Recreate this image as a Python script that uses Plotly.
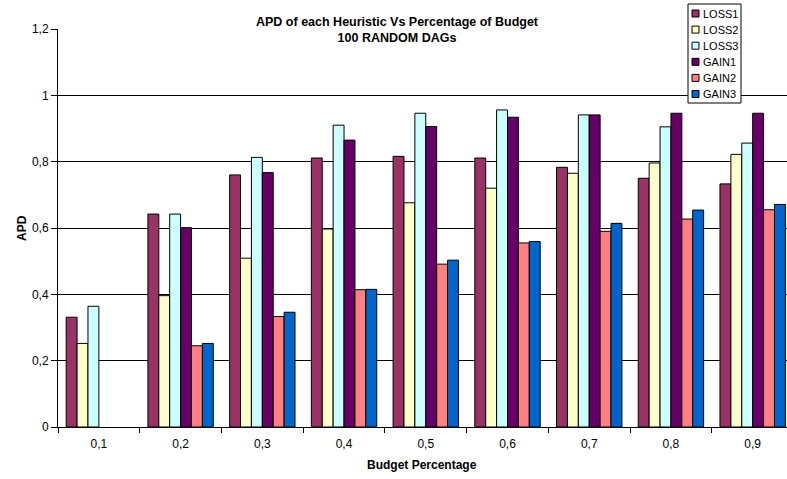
import plotly.graph_objects as go

# Budget percentages (category axis) and APD per heuristic
budget = ["0,1", "0,2", "0,3", "0,4", "0,5", "0,6", "0,7", "0,8", "0,9"]
loss1 = [0.331, 0.642, 0.760, 0.811, 0.816, 0.811, 0.783, 0.750, 0.733]
loss2 = [0.252, 0.396, 0.509, 0.597, 0.676, 0.720, 0.765, 0.796, 0.822]
loss3 = [0.364, 0.642, 0.813, 0.910, 0.946, 0.956, 0.941, 0.905, 0.856]
gain1 = [None, 0.601, 0.767, 0.865, 0.906, 0.934, 0.941, 0.946, 0.946]
gain2 = [None, 0.245, 0.333, 0.414, 0.491, 0.555, 0.590, 0.627, 0.655]
gain3 = [None, 0.252, 0.346, 0.415, 0.503, 0.559, 0.614, 0.654, 0.671]

names = ["LOSS1", "LOSS2", "LOSS3", "GAIN1", "GAIN2", "GAIN3"]
series = [loss1, loss2, loss3, gain1, gain2, gain3]
colors = ["#993366", "#FFFFCC", "#CCFFFF", "#660066", "#FF8080", "#0066CC"]

y_ticks = [0, 0.2, 0.4, 0.6, 0.8, 1.0, 1.2]
y_tick_text = ["0", "0,2", "0,4", "0,6", "0,8", "1", "1,2"]

W, H = 787, 479
L, R, T, B = 58, 0, 29, 52
pw, ph = W - L - R, H - T - B

FONT = "Liberation Sans, Arial, sans-serif"


def px(x):
    return (x - L) / pw


def py(y):
    return (H - B - y) / ph


fig = go.Figure()
for name, vals, col in zip(names, series, colors):
    fig.add_trace(go.Bar(
        x=budget, y=vals, name=name,
        marker=dict(color=col, line=dict(color="black", width=1)),
        showlegend=False,
    ))

annotations = [
    dict(text="<b>APD of each Heuristic Vs Percentage of Budget<br>100 RANDOM DAGs</b>",
         x=px(397), y=py(30), xref="paper", yref="paper", showarrow=False,
         xanchor="center", yanchor="middle", font=dict(size=12.5, family=FONT, color="black")),
    dict(text="<b>APD</b>", x=px(22), y=py(228), xref="paper", yref="paper",
         showarrow=False, textangle=-90, xanchor="center", yanchor="middle",
         font=dict(size=12, family=FONT, color="black")),
    dict(text="<b>Budget Percentage</b>", x=px(422), y=py(465), xref="paper", yref="paper",
         showarrow=False, xanchor="center", yanchor="middle",
         font=dict(size=12, family=FONT, color="black")),
]

# Legend box with colour swatches
shapes = [dict(type="rect", xref="paper", yref="paper",
               x0=px(688), x1=px(741), y0=py(103), y1=py(4),
               fillcolor="white", line=dict(color="black", width=1), layer="above")]
for i, (name, col) in enumerate(zip(names, colors)):
    yc = 13.5 + i * 16.1
    shapes.append(dict(type="rect", xref="paper", yref="paper",
                       x0=px(692), x1=px(699), y0=py(yc + 3.5), y1=py(yc - 3.5),
                       fillcolor=col, line=dict(color="black", width=1), layer="above"))
    annotations.append(dict(text=name, x=px(700.5), y=py(yc), xref="paper", yref="paper",
                            showarrow=False, xanchor="left", yanchor="middle",
                            font=dict(size=11, family=FONT, color="black")))

fig.update_layout(
    width=W, height=H,
    margin=dict(l=L, r=R, t=T, b=B),
    paper_bgcolor="white", plot_bgcolor="white",
    barmode="group", bargap=0.2, bargroupgap=0,
    font=dict(family=FONT, size=12, color="black"),
    annotations=annotations, shapes=shapes,
    xaxis=dict(
        type="category", range=[-0.5, 8.42],
        showline=True, linecolor="black", linewidth=1,
        ticks="outside", ticklen=5, tickcolor="black", tickson="boundaries",
        showgrid=False, tickfont=dict(size=12), ticklabelstandoff=6,
    ),
    yaxis=dict(
        range=[0, 1.2], tickvals=y_ticks, ticktext=y_tick_text,
        showline=True, linecolor="black", linewidth=1,
        ticks="outside", ticklen=6, tickcolor="black",
        showgrid=True, gridcolor="black", gridwidth=1,
        zeroline=False, tickfont=dict(size=12),
    ),
)

fig.write_html("out.html")
